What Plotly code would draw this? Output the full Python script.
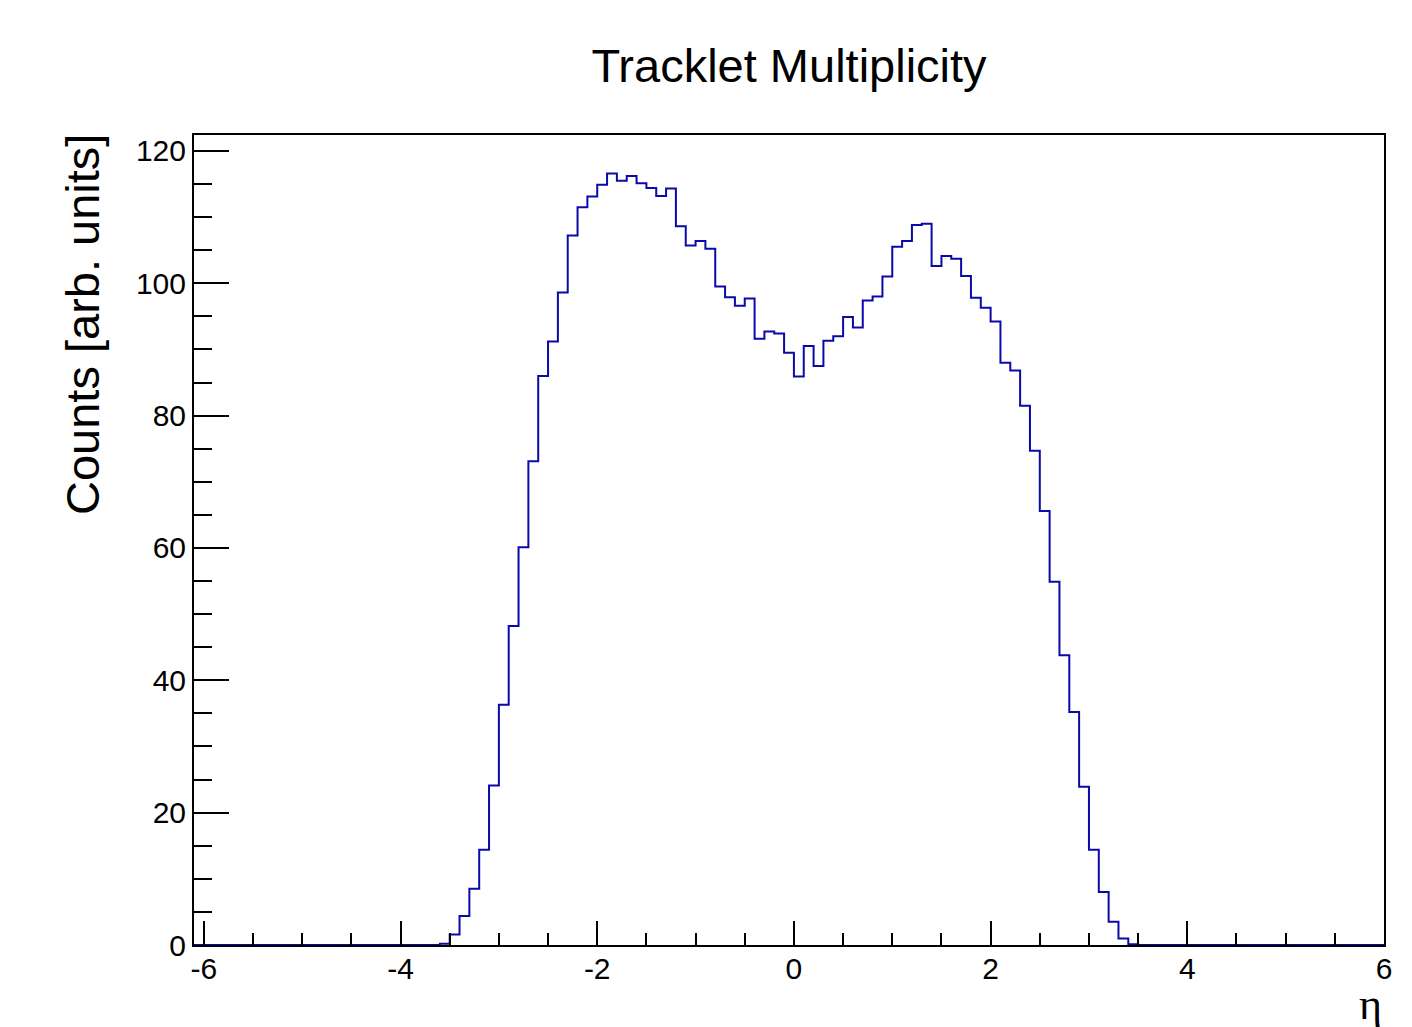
import numpy as np
import plotly.graph_objects as go

# Histogram definition
X_MIN = -6.1
X_MAX = 6.0
BIN_WIDTH = 0.1
FIRST_FILLED_EDGE = -3.6  # lower edge of first non-empty bin

# counts per bin, starting at FIRST_FILLED_EDGE, width BIN_WIDTH
counts = [
    0.2, 1.6, 4.4, 8.5, 14.4, 24.1, 36.3, 48.2, 60.1, 73.1,      # -3.6 .. -2.7
    86.0, 91.2, 98.6, 107.2, 111.5, 113.1, 114.9, 116.6, 115.5, 116.2,  # -2.6 .. -1.7
    115.1, 114.4, 113.2, 114.3, 108.6, 105.7, 106.4, 105.2, 99.5, 97.9,  # -1.6 .. -0.7
    96.6, 97.7, 91.6, 92.7, 92.4, 89.5, 85.9, 90.5, 87.5, 91.3,   # -0.6 .. 0.3
    92.0, 94.9, 93.3, 97.4, 98.0, 101.0, 105.5, 106.4, 108.8, 109.0,  # 0.4 .. 1.3
    102.6, 104.1, 103.7, 101.1, 97.8, 96.3, 94.2, 88.0, 86.8, 81.5,  # 1.4 .. 2.3
    74.7, 65.6, 54.9, 43.8, 35.2, 23.9, 14.4, 8.0, 3.5, 1.0,      # 2.4 .. 3.3
    0.1,                                                        # 3.4
]

x_tick_vals = [-6, -4, -2, 0, 2, 4, 6]
x_tick_text = ["-6", "-4", "-2", "0", "2", "4", "6"]

title_text = "Tracklet Multiplicity"
y_title = "Counts [arb. units]"
x_title = "η"

# Build the full step outline (empty bins lie on the baseline)
n_bins = int(round((X_MAX - X_MIN) / BIN_WIDTH))
edges = np.round(X_MIN + BIN_WIDTH * np.arange(n_bins + 1), 6)
vals = np.zeros(n_bins)
start = int(round((FIRST_FILLED_EDGE - X_MIN) / BIN_WIDTH))
vals[start:start + len(counts)] = counts
xs = list(edges)
ys = list(vals) + [vals[-1]]

fig = go.Figure()
fig.add_trace(go.Scatter(
    x=xs, y=ys, mode="lines", line=dict(shape="hv", color="#0a0aa8", width=2),
    hoverinfo="skip", showlegend=False,
))

font_sans = "Liberation Sans, Arial, Helvetica, sans-serif"

fig.update_layout(
    width=1412, height=1027,
    margin=dict(l=194, r=28, t=135, b=82),
    paper_bgcolor="white", plot_bgcolor="white",
    font=dict(family=font_sans, color="black"),
    title=dict(text=title_text, x=0.5, xref="paper", y=1 - 66 / 1027,
               yref="container", xanchor="center", yanchor="middle",
               font=dict(size=47, family=font_sans, color="black")),
    xaxis=dict(
        range=[X_MIN, X_MAX], showgrid=False, zeroline=False,
        showline=True, linecolor="black", linewidth=2, mirror=True,
        ticks="inside", ticklen=24, tickwidth=2, tickcolor="black",
        tickmode="array", tickvals=x_tick_vals, ticktext=x_tick_text,
        ticklabelstandoff=-4,
        tickfont=dict(size=30, family=font_sans, color="black"),
        minor=dict(ticks="inside", ticklen=12, tickwidth=2, tickcolor="black",
                   dtick=0.5, tick0=-6, showgrid=False),
    ),
    yaxis=dict(
        range=[0, 122.4], showgrid=False, zeroline=False,
        showline=True, linecolor="black", linewidth=2, mirror=True,
        ticks="inside", ticklen=35, tickwidth=2, tickcolor="black",
        tick0=0, dtick=20, tickfont=dict(size=30, family=font_sans, color="black"),
        minor=dict(ticks="inside", ticklen=18, tickwidth=2, tickcolor="black",
                   dtick=5, tick0=0, showgrid=False),
    ),
    annotations=[
        dict(text=y_title, textangle=-90, xref="paper", yref="paper",
             x=(82 - 194) / 1190, y=(945 - 325) / 810, xanchor="center", yanchor="middle",
             showarrow=False, font=dict(size=47, family=font_sans, color="black")),
        dict(text=x_title, xref="paper", yref="paper",
             x=1.0, y=(945 - 1004) / 810, xanchor="right", yanchor="middle",
             showarrow=False, font=dict(size=44, family="Liberation Serif, Times New Roman, serif",
                                        color="black")),
    ],
)

fig.write_html("out.html")
